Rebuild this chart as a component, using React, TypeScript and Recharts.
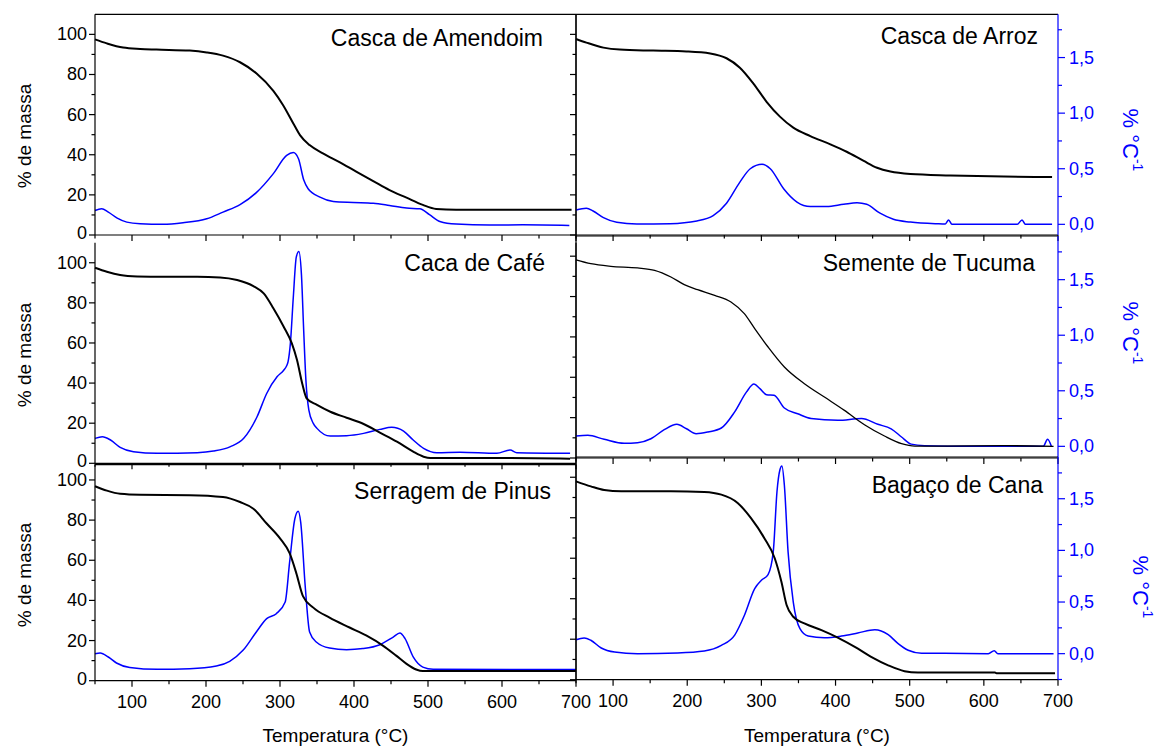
import React from "react";
import { LineChart, Line, XAxis, YAxis } from "recharts";

const W = 1155;
const H = 747;
const FONT = '"Liberation Sans", Arial, Helvetica, sans-serif';
const BLUE = "#0000ff";
const AX = 1; // size reserved for each drawn axis

// ─── Axis ticks ───────────────────────────────────────────────────────────────

const tempTicks = [50, 100, 150, 200, 250, 300, 350, 400, 450, 500, 550, 600, 650, 700];
const massTicks = [0, 10, 20, 30, 40, 50, 60, 70, 80, 90, 100];
const dtgTicks = [-0.25, 0, 0.25, 0.5, 0.75, 1, 1.25, 1.5, 1.75];

// ─── Casca de Amendoim ────────────────────────────────────────────────────────

const amendoimTemp = [50, 66, 88, 111, 133, 178, 201, 223, 246, 268, 291, 304, 318, 327, 340, 358, 381, 403, 426, 448, 471, 493, 511, 538, 694];
const amendoimMassa = [97.5, 95.5, 93.4, 92.7, 92.4, 91.9, 91.0, 89.4, 86.1, 80.6, 71.8, 64.8, 55.6, 49.8, 44.8, 40.7, 36.2, 31.6, 26.9, 22.4, 18.6, 15.0, 13.0, 12.6, 12.6];
const amendoimDtgTemp = [50, 59, 68, 80, 93, 111, 142, 169, 201, 223, 246, 268, 291, 309, 318, 325, 332, 338, 354, 372, 399, 426, 448, 471, 489, 502, 516, 538, 583, 628, 691];
const amendoimDtg = [0.125, 0.14, 0.11, 0.056, 0.02, 0.005, 0.0, 0.014, 0.05, 0.11, 0.177, 0.285, 0.456, 0.62, 0.645, 0.59, 0.4, 0.32, 0.245, 0.206, 0.197, 0.19, 0.17, 0.146, 0.14, 0.087, 0.026, 0.002, -0.007, -0.004, -0.01];

// ─── Casca de Arroz ───────────────────────────────────────────────────────────

const arrozTemp = [50, 64, 87, 109, 154, 199, 231, 253, 271, 289, 307, 325, 343, 366, 393, 415, 438, 456, 474, 501, 555, 627, 692];
const arrozMassa = [97.7, 95.9, 93.4, 92.4, 91.9, 91.5, 90.5, 88.1, 83.4, 75.6, 66.4, 59.0, 53.5, 49.3, 45.2, 41.5, 36.9, 33.5, 31.6, 30.4, 29.7, 29.1, 28.9];
const arrozDtgTemp = [50, 64, 73, 87, 105, 132, 177, 213, 235, 253, 271, 285, 301, 312, 330, 348, 366, 388, 411, 429, 442, 460, 478, 501, 537, 548, 552.5, 557, 645, 651.5, 656, 692];
const arrozDtg = [0.129, 0.144, 0.12, 0.06, 0.018, 0.003, 0.006, 0.03, 0.078, 0.19, 0.38, 0.5, 0.54, 0.5, 0.32, 0.2, 0.16, 0.16, 0.18, 0.194, 0.18, 0.1, 0.045, 0.02, 0.005, 0.003, 0.04, 0.0, 0.0, 0.04, 0.0, 0.0];

// ─── Caca de Café ─────────────────────────────────────────────────────────────

const cafeTemp = [50, 66, 84, 107, 143, 188, 219, 242, 264, 278, 291, 305, 316, 323, 330, 336, 350, 368, 390, 413, 435, 458, 480, 494, 503, 611, 692];
const cafeMassa = [97.5, 95.5, 93.9, 93.2, 93.0, 93.0, 92.7, 91.4, 88.4, 84.7, 77.3, 68.1, 59.8, 51.5, 39.8, 32.4, 29.1, 25.7, 22.7, 19.6, 15.3, 10.8, 5.8, 3.3, 2.6, 2.6, 2.3];
const cafeDtgTemp = [50, 60, 71, 84, 102, 134, 188, 210, 233, 251, 269, 282, 296, 305, 309, 311, 314, 318, 322, 325.5, 329, 332, 335, 339, 345, 350, 368, 390, 413, 435, 451, 467, 480, 494, 512, 543, 593, 611, 620, 692];
const cafeDtg = [0.125, 0.14, 0.11, 0.044, 0.005, -0.01, -0.004, 0.01, 0.05, 0.125, 0.32, 0.53, 0.68, 0.74, 0.78, 0.82, 0.98, 1.4, 1.76, 1.81, 1.6, 1.1, 0.65, 0.38, 0.26, 0.215, 0.146, 0.149, 0.17, 0.206, 0.225, 0.19, 0.11, 0.035, -0.004, 0.0, -0.01, 0.02, -0.005, -0.01];

// ─── Semente de Tucuma ────────────────────────────────────────────────────────

const tucumaTemp = [50, 70, 97, 133, 156, 178, 196, 214, 237, 259, 277, 291, 309, 331, 358, 385, 412, 439, 466, 489, 507, 538, 628, 694];
const tucumaMassa = [98.2, 96.3, 95.0, 94.2, 93.0, 89.7, 85.9, 83.4, 80.6, 77.3, 71.5, 64.1, 55.0, 45.1, 36.8, 30.2, 23.6, 16.5, 10.9, 7.1, 5.9, 5.9, 6.1, 5.8];
const tucumaDtgTemp = [50, 66, 88, 115, 133, 151, 169, 186, 199, 212, 228, 246, 264, 280, 290, 298, 307, 317, 331, 349, 367, 403, 435, 457, 475, 489, 502, 520, 583, 680, 686, 691];
const tucumaDtg = [0.093, 0.099, 0.063, 0.027, 0.032, 0.068, 0.15, 0.198, 0.158, 0.113, 0.129, 0.165, 0.31, 0.49, 0.56, 0.52, 0.465, 0.46, 0.345, 0.293, 0.25, 0.234, 0.25, 0.198, 0.158, 0.084, 0.02, 0.006, 0.0, 0.0, 0.063, 0.0];

// ─── Serragem de Pinus ────────────────────────────────────────────────────────

const pinusTemp = [50, 66, 84, 111, 178, 223, 246, 264, 282, 300, 313, 322, 331, 345, 367, 394, 417, 439, 457, 471, 484, 493, 700];
const pinusMassa = [96.9, 94.7, 93.1, 92.6, 92.4, 91.5, 89.0, 85.7, 78.3, 70.9, 63.5, 53.6, 42.1, 36.4, 31.4, 26.5, 22.4, 17.5, 12.5, 8.4, 5.6, 4.8, 4.8];
const pinusDtgTemp = [50, 57, 68, 79, 97, 134, 178, 214, 232, 250, 268, 282, 295, 307, 313, 320, 324.6, 328, 334, 340, 349, 367, 390, 412, 435, 453, 462, 469, 480, 493, 507, 700];
const pinusDtg = [0.144, 0.15, 0.114, 0.06, 0.02, 0.003, 0.008, 0.032, 0.075, 0.174, 0.34, 0.46, 0.505, 0.61, 0.97, 1.36, 1.43, 1.33, 0.76, 0.34, 0.25, 0.195, 0.18, 0.19, 0.225, 0.294, 0.33, 0.28, 0.114, 0.023, 0.003, 0.0];

// ─── Bagaço de Cana ───────────────────────────────────────────────────────────

const canaTemp = [50, 70, 88, 111, 178, 223, 246, 268, 286, 304, 318, 327, 334, 343, 358, 381, 403, 426, 448, 471, 493, 511, 615, 617, 696];
const canaMassa = [98.0, 95.5, 93.7, 93.1, 93.1, 92.7, 91.4, 87.3, 79.8, 69.9, 60.0, 48.4, 36.9, 31.1, 27.8, 24.5, 20.8, 16.2, 11.3, 7.1, 4.2, 3.5, 3.5, 3.2, 3.2];
const canaDtgTemp = [50, 61, 70, 84, 102, 133, 187, 223, 246, 264, 277, 291, 300, 309, 316, 321, 325, 327.7, 331, 336, 343, 352, 363, 385, 408, 430, 453, 471, 484, 498, 516, 547, 606, 614, 619, 694];
const canaDtg = [0.135, 0.152, 0.13, 0.055, 0.016, 0.0, 0.007, 0.026, 0.08, 0.18, 0.37, 0.63, 0.71, 0.765, 0.985, 1.565, 1.78, 1.817, 1.63, 0.985, 0.5, 0.242, 0.171, 0.155, 0.171, 0.2, 0.232, 0.184, 0.1, 0.033, 0.004, 0.004, 0.0, 0.029, 0.0, 0.0];

// ─── Helpers ──────────────────────────────────────────────────────────────────

type Pt = { t: number; v: number };
const pts = (t: number[], v: number[]): Pt[] => t.map((x, i) => ({ t: x, v: v[i] }));

const isMult = (v: number, step: number) => Math.abs(v / step - Math.round(v / step)) < 1e-6;
const commaFmt = (v: number) => v.toFixed(1).replace(".", ",");

const textStyle = { fontFamily: FONT, fontSize: 18 };

// bottom axis: ticks pointing down, optional labels
const bottomTick = (labels: boolean) => (props: any) => {
  const { x, y, payload } = props;
  const v = payload.value as number;
  const major = isMult(v, 100);
  return (
    <g>
      <line x1={x} x2={x} y1={y} y2={y + (major ? 6 : 3.5)} stroke="#000" strokeWidth={1.2} />
      {labels && major && (
        <text x={x} y={y + 27} textAnchor="middle" fill="#000" style={textStyle}>
          {v}
        </text>
      )}
    </g>
  );
};

// top frame: ticks pointing into the plot
const topTick = (props: any) => {
  const { x, y, payload } = props;
  const major = isMult(payload.value, 100);
  return <line x1={x} x2={x} y1={y} y2={y + (major ? 6 : 3.5)} stroke="#000" strokeWidth={1.2} />;
};

// mass ticks always drawn to the left of the axis line;
// the "0" label sits a little high so it clears the panel below
const massTick = (labels: boolean) => (props: any) => {
  const { x, y, payload } = props;
  const v = payload.value as number;
  const major = isMult(v, 20);
  return (
    <g>
      <line x1={x - (major ? 6 : 3.5)} x2={x} y1={y} y2={y} stroke="#000" strokeWidth={1.2} />
      {labels && major && (
        <text
          x={x - 8}
          y={v === 0 ? y - 2 : y}
          textAnchor="end"
          dominantBaseline="central"
          fill="#000"
          style={textStyle}
        >
          {v}
        </text>
      )}
    </g>
  );
};

const dtgTick = (props: any) => {
  const { x, y, payload } = props;
  const v = payload.value as number;
  const major = isMult(v, 0.5);
  return (
    <g>
      <line x1={x} x2={x + (major ? 7 : 4)} y1={y} y2={y} stroke={BLUE} strokeWidth={1.2} />
      {major && (
        <text x={x + 11} y={y} textAnchor="start" dominantBaseline="central" fill={BLUE} style={textStyle}>
          {commaFmt(v)}
        </text>
      )}
    </g>
  );
};

// ─── One TG / DTG panel ───────────────────────────────────────────────────────

type PanelProps = {
  box: [number, number, number, number]; // plot left, top, right, bottom
  massDomain: [number, number];
  dtgDomain: [number, number];
  massa: Pt[];
  dtg: Pt[];
  column: "left" | "right";
  xLabels: boolean;
  topFrame: boolean;
  massStroke?: number;
};

const Panel: React.FC<PanelProps> = ({
  box,
  massDomain,
  dtgDomain,
  massa,
  dtg,
  column,
  xLabels,
  topFrame,
  massStroke = 2,
}) => {
  const [l, t, r, b] = box;
  const mTicks = massTicks.filter((v) => v >= massDomain[0] && v <= massDomain[1]);
  const dTicks = dtgTicks.filter((v) => v >= dtgDomain[0] && v <= dtgDomain[1]);
  const margin = {
    left: l - AX,
    top: t - (topFrame ? AX : 0),
    right: W - r - AX,
    bottom: H - b - AX,
  };
  return (
    <div style={{ position: "absolute", left: 0, top: 0 }}>
      <LineChart width={W} height={H} margin={margin}>
        <XAxis
          xAxisId="b"
          type="number"
          dataKey="t"
          domain={[50, 700]}
          ticks={tempTicks}
          interval={0}
          height={AX}
          tickSize={0}
          tickMargin={0}
          tickLine={false}
          stroke="#000"
          strokeWidth={1.2}
          tick={bottomTick(xLabels)}
        />
        {topFrame && (
          <XAxis
            xAxisId="top"
            orientation="top"
            type="number"
            dataKey="t"
            domain={[50, 700]}
            ticks={tempTicks}
            interval={0}
            height={AX}
            tickSize={0}
            tickMargin={0}
            tickLine={false}
            stroke="#000"
            strokeWidth={1.2}
            tick={topTick}
          />
        )}
        <YAxis
          yAxisId="m"
          type="number"
          domain={massDomain}
          ticks={mTicks}
          interval={0}
          width={AX}
          tickSize={0}
          tickMargin={0}
          tickLine={false}
          stroke="#000"
          strokeWidth={1.2}
          tick={massTick(column === "left")}
        />
        {column === "left" ? (
          <>
            <YAxis
              yAxisId="frame"
              orientation="right"
              type="number"
              domain={massDomain}
              ticks={mTicks}
              interval={0}
              width={AX}
              tickSize={0}
              tickMargin={0}
              tickLine={false}
              stroke="#000"
              strokeWidth={1.2}
              tick={massTick(false)}
            />
            <YAxis yAxisId="d" orientation="right" type="number" domain={dtgDomain} width={0} hide />
          </>
        ) : (
          <YAxis
            yAxisId="d"
            orientation="right"
            type="number"
            domain={dtgDomain}
            ticks={dTicks}
            interval={0}
            width={AX}
            tickSize={0}
            tickMargin={0}
            tickLine={false}
            stroke={BLUE}
            strokeWidth={1.2}
            tick={dtgTick}
          />
        )}
        <Line
          xAxisId="b"
          yAxisId="d"
          data={dtg}
          dataKey="v"
          type="monotone"
          stroke={BLUE}
          strokeWidth={1.5}
          dot={false}
          activeDot={false}
          isAnimationActive={false}
        />
        <Line
          xAxisId="b"
          yAxisId="m"
          data={massa}
          dataKey="v"
          type="monotone"
          stroke="#000"
          strokeWidth={massStroke}
          dot={false}
          activeDot={false}
          isAnimationActive={false}
        />
      </LineChart>
    </div>
  );
};

// ─── Titles and axis names ────────────────────────────────────────────────────

const panelTitles: { text: string; x: number; y: number }[] = [
  { text: "Casca de Amendoim", x: 543, y: 46 },
  { text: "Casca de Arroz", x: 1038, y: 44 },
  { text: "Caca de Café", x: 545, y: 271 },
  { text: "Semente de Tucuma", x: 1035, y: 271 },
  { text: "Serragem de Pinus", x: 551, y: 499 },
  { text: "Bagaço de Cana", x: 1043, y: 493 },
];

const massLabelY = [136, 355, 575];
const dtgLabelPos: [number, number][] = [
  [1130, 140],
  [1130, 333],
  [1140, 587],
];

const Labels: React.FC = () => (
  <svg width={W} height={H} style={{ position: "absolute", left: 0, top: 0, pointerEvents: "none" }}>
    {panelTitles.map((p) => (
      <text key={p.text} x={p.x} y={p.y} textAnchor="end" fill="#000" style={{ fontFamily: FONT, fontSize: 23 }}>
        {p.text}
      </text>
    ))}
    {massLabelY.map((y) => (
      <text
        key={y}
        x={24}
        y={y}
        transform={`rotate(-90, 24, ${y})`}
        textAnchor="middle"
        dominantBaseline="central"
        fill="#000"
        style={{ fontFamily: FONT, fontSize: 19 }}
      >
        % de massa
      </text>
    ))}
    {dtgLabelPos.map(([x, y]) => (
      <text
        key={y}
        x={x}
        y={y}
        transform={`rotate(90, ${x}, ${y})`}
        textAnchor="middle"
        dominantBaseline="central"
        fill={BLUE}
        style={{ fontFamily: FONT, fontSize: 22 }}
      >
        % °C
        <tspan dy={-8} fontSize={14}>
          -1
        </tspan>
      </text>
    ))}
    {[335.5, 817].map((x) => (
      <text key={x} x={x} y={742} textAnchor="middle" fill="#000" style={{ fontFamily: FONT, fontSize: 19 }}>
        Temperatura (°C)
      </text>
    ))}
  </svg>
);

export default function App() {
  return (
    <div style={{ position: "absolute", left: 0, top: 0, width: W, height: H, background: "#fff", overflow: "hidden" }}>
      <Panel
        box={[95, 14.3, 576, 235]}
        massDomain={[0, 110]}
        dtgDomain={[-0.096, 1.889]}
        massa={pts(amendoimTemp, amendoimMassa)}
        dtg={pts(amendoimDtgTemp, amendoimDtg)}
        column="left"
        xLabels={false}
        topFrame
      />
      <Panel
        box={[576, 14.3, 1058, 235]}
        massDomain={[0, 110]}
        dtgDomain={[-0.096, 1.889]}
        massa={pts(arrozTemp, arrozMassa)}
        dtg={pts(arrozDtgTemp, arrozDtg)}
        column="right"
        xLabels={false}
        topFrame
      />
      <Panel
        box={[95, 242.7, 576, 463.3]}
        massDomain={[0, 110]}
        dtgDomain={[-0.1, 1.89]}
        massa={pts(cafeTemp, cafeMassa)}
        dtg={pts(cafeDtgTemp, cafeDtg)}
        column="left"
        xLabels={false}
        topFrame={false}
      />
      <Panel
        box={[576, 236, 1058, 458]}
        massDomain={[0, 110]}
        dtgDomain={[-0.105, 1.893]}
        massa={pts(tucumaTemp, tucumaMassa)}
        dtg={pts(tucumaDtgTemp, tucumaDtg)}
        column="right"
        xLabels={false}
        topFrame
        massStroke={1.3}
      />
      <Panel
        box={[95, 464.7, 576, 680.7]}
        massDomain={[0, 107.6]}
        dtgDomain={[-0.1, 1.85]}
        massa={pts(pinusTemp, pinusMassa)}
        dtg={pts(pinusDtgTemp, pinusDtg)}
        column="left"
        xLabels
        topFrame
      />
      <Panel
        box={[576, 457, 1058, 679.7]}
        massDomain={[0, 110]}
        dtgDomain={[-0.252, 1.904]}
        massa={pts(canaTemp, canaMassa)}
        dtg={pts(canaDtgTemp, canaDtg)}
        column="right"
        xLabels
        topFrame
      />
      <Labels />
    </div>
  );
}
